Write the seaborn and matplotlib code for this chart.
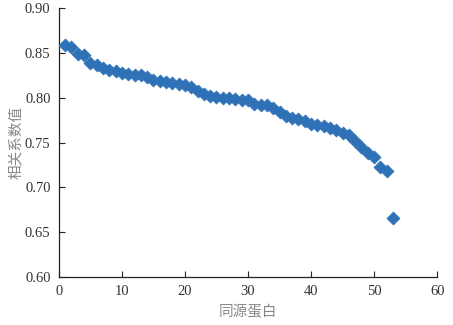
import matplotlib
matplotlib.use("Agg")
import matplotlib.pyplot as plt
import seaborn as sns
import pandas as pd

x_vals = list(range(1, 54))
corr_vals = [0.859, 0.857, 0.849, 0.848, 0.839, 0.837, 0.833, 0.831, 0.830, 0.828,
             0.826, 0.825, 0.825, 0.823, 0.820, 0.819, 0.818, 0.816, 0.815, 0.814,
             0.812, 0.807, 0.804, 0.802, 0.801, 0.800, 0.800, 0.799, 0.797, 0.797,
             0.793, 0.792, 0.792, 0.788, 0.784, 0.780, 0.777, 0.776, 0.774, 0.771,
             0.769, 0.768, 0.766, 0.764, 0.761, 0.758, 0.752, 0.745, 0.738, 0.734,
             0.723, 0.718, 0.666]
x_ticks = [0, 10, 20, 30, 40, 50, 60]
y_ticks = [0.60, 0.65, 0.70, 0.75, 0.80, 0.85, 0.90]
x_label = "同源蛋白"
y_label = "相关系数值"

sns.set_style("ticks")
plt.rcParams['font.family'] = ['Liberation Serif', 'Noto Sans CJK SC']

df = pd.DataFrame({"x": x_vals, "y": corr_vals})

fig = plt.figure(figsize=(4.53, 3.25), dpi=100)
ax = fig.add_axes([0.130, 0.148, 0.835, 0.827])
sns.scatterplot(data=df, x="x", y="y", ax=ax, marker="D", s=44,
                color="#2e71b6", edgecolor="#2e71b6", linewidth=0.5, zorder=3)

ax.set_xlim(0, 60)
ax.set_ylim(0.60, 0.90)
ax.set_xticks(x_ticks)
ax.set_yticks(y_ticks)
ax.set_xticklabels([str(t) for t in x_ticks])
ax.set_yticklabels([f"{t:.2f}" for t in y_ticks])
ax.tick_params(direction="in", length=4, width=0.8, colors="#222222",
               labelsize=10.5, labelcolor="#333333")
ax.tick_params(axis="x", pad=6)
ax.tick_params(axis="y", pad=6)
for s in ["top", "right"]:
    ax.spines[s].set_visible(False)
for s in ["left", "bottom"]:
    ax.spines[s].set_color("#222222")
    ax.spines[s].set_linewidth(0.9)

ax.set_xlabel(x_label, family=['Noto Sans CJK SC'], fontsize=10.5, color="#888888", labelpad=5)
ax.set_ylabel(y_label, family=['Noto Sans CJK SC'], fontsize=10.5, color="#888888", labelpad=1)

fig.savefig("out.png", dpi=100)
